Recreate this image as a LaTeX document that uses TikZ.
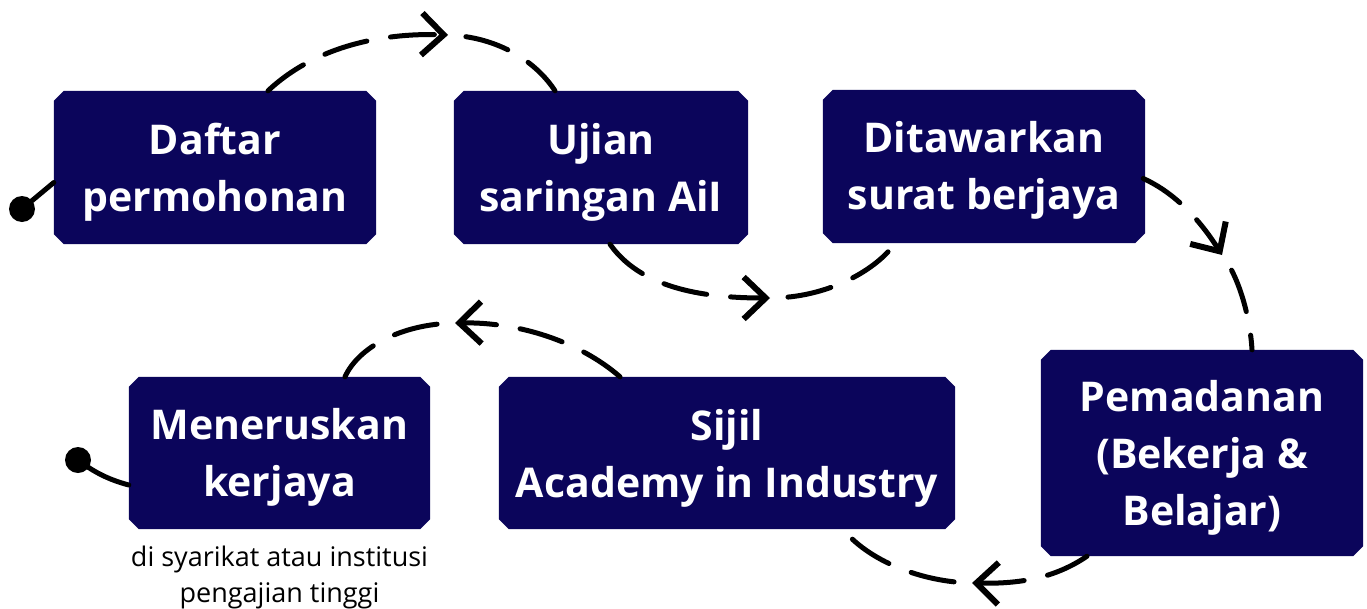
\documentclass[tikz,border=0pt]{standalone}
\usepackage{fontspec}
\setmainfont{Open Sans}
\usetikzlibrary{arrows.meta,calc}
\definecolor{navy}{RGB}{11,5,91}
\pgfdeclarelayer{bg}
\pgfsetlayers{bg,main}
\newcommand\chamfbox[1]{%
  \fill[navy] ($(#1.north west)+(10,0)$) -- ($(#1.north east)+(-10,0)$) --
    ($(#1.north east)+(0,10)$) -- ($(#1.south east)+(0,-10)$) --
    ($(#1.south east)+(-10,0)$) -- ($(#1.south west)+(10,0)$) --
    ($(#1.south west)+(0,-10)$) -- ($(#1.north west)+(0,10)$) -- cycle;}
\begin{document}
\begin{tikzpicture}[x=1pt,y=-1pt,
  boxnode/.style={inner sep=0pt},
  label/.style={text=white, font=\bfseries\fontsize{41}{57}\selectfont,
    align=center, inner sep=0pt},
  flow/.style={line width=5pt, dash pattern=on 44pt off 24pt, line cap=round},
  after/.style={dash phase=50pt},
  tipA/.style={-{Straight Barb[length=22pt,width=42pt,line width=6pt]}},
  dot/.style={circle, fill=black, minimum size=26pt, inner sep=0pt},
  solidline/.style={line width=5pt, line cap=round},
  note/.style={font=\fontsize{27}{36}\selectfont, align=center, inner sep=0pt}]
\useasboundingbox (0,0) rectangle (1367,608);

\node[boxnode, minimum width=322pt, minimum height=153pt] (b1) at (215,167.5) {};
\node[boxnode, minimum width=294pt, minimum height=153pt] (b2) at (601,167.5) {};
\node[boxnode, minimum width=322pt, minimum height=153pt] (b3) at (984,166.5) {};
\node[boxnode, minimum width=322pt, minimum height=206pt] (b4) at (1202,453) {};
\node[boxnode, minimum width=456pt, minimum height=152pt] (b5) at (727,453) {};
\node[boxnode, minimum width=301pt, minimum height=152pt] (b6) at (279.5,453) {};

\begin{pgfonlayer}{bg}
  \chamfbox{b1}\chamfbox{b2}\chamfbox{b3}\chamfbox{b4}\chamfbox{b5}\chamfbox{b6}
\end{pgfonlayer}

\node[label] (l1) at ($(b1)+(0,5)$) {Daftar\\permohonan};
\node[label] (l2) at ($(b2)+(0,5)$) {Ujian\\saringan AiI};
\node[label] (l3) at ($(b3)+(0,4)$) {Ditawarkan\\surat berjaya};
\node[label] (l4) at ($(b4)+(0,5)$) {Pemadanan\\(Bekerja \&\\Belajar)};
\node[label] (l5) at ($(b5)+(0,5)$) {Sijil\\Academy in Industry};
\node[label] (l6) at ($(b6)+(0,4)$) {Meneruskan\\kerjaya};
\node[note, anchor=north] (n6) at ($(b6.south)+(0,17)$) {di syarikat atau institusi\\pengajian tinggi};

\coordinate (t1) at (448,35);
\coordinate (t2) at (770,298);
\coordinate (t3) at (1222,255);
\coordinate (t4) at (972,583);
\coordinate (t5) at (455,323);

\draw[flow, tipA] ($(b1.north)+(53,0)$) .. controls (320,42) and (392,33) .. (t1);
\draw[flow, after] (t1) .. controls (500,37) and (537,63) .. ($(b2.north)+(-46,0)$);

\draw[flow, tipA] ($(b2.south)+(9,0)$) .. controls (640,287) and (700,298) .. (t2);
\draw[flow, after] (t2) .. controls (830,298) and (878,268) .. ($(b3.south)+(-89,0)$);

\draw[flow, tipA] ($(b3.east)+(-2,12)$) .. controls (1180,195) and (1205,228) .. (t3);
\draw[flow, after] (t3) .. controls (1238,275) and (1250,315) .. ($(b4.north)+(50,0)$);

\draw[flow, tipA] ($(b4.south)+(-115,0)$) .. controls (1055,578) and (1020,584) .. (t4);
\draw[flow, after] (t4) .. controls (920,582) and (868,560) .. ($(b5.south)+(116,0)$);

\draw[flow, tipA] ($(b5.north)+(-107,0)$) .. controls (580,342) and (520,322) .. (t5);
\draw[flow, after] (t5) .. controls (400,324) and (358,348) .. ($(b6.north)+(65.5,0)$);

\node[dot] (d1) at (22,209) {};
\draw[solidline] (d1.center) -- ($(b1.west)+(0,15)$);
\node[dot] (d2) at (78,460) {};
\draw[solidline] (d2.center) .. controls (95,473) and (110,480) .. ($(b6.west)+(0,32)$);
\end{tikzpicture}
\end{document}
